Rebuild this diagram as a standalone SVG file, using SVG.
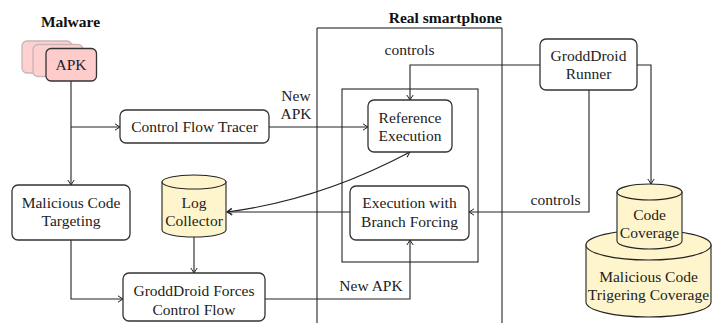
<svg xmlns="http://www.w3.org/2000/svg" width="712" height="323" viewBox="0 0 712 323">
<style>
.t{font-size:15.5px;fill:#222;text-anchor:middle}
.b{font-weight:bold;fill:#111}
.box{fill:#fff;stroke:#333;stroke-width:1.3}
.pk{fill:#ffcccc;stroke:#333;stroke-width:1.3}
.sh{fill:#ffd0d0;stroke:#c8b6b6;stroke-width:1.3}
.cy{fill:#fff5cc;stroke:#222;stroke-width:1.1}
.frame{fill:none;stroke:#111;stroke-width:1}
.c{fill:none;stroke:#222;stroke-width:1.1}
.a{marker-end:url(#ar)}
</style>
<defs>
<marker id="ar" viewBox="-6 -4 7 8" refX="0" refY="0" markerWidth="7" markerHeight="8" markerUnits="userSpaceOnUse" orient="auto-start-reverse">
<path d="M-5,-3.2 Q-1.5,-0.8 0,0 Q-1.5,0.8 -5,3.2" fill="none" stroke="#222" stroke-width="1"/>
</marker>
</defs>
<g font-family="Liberation Serif, DejaVu Serif, serif">
<g id="labels">
<text class="t b" x="70.5" y="27">Malware</text>
<text class="t b" x="502" y="23" style="text-anchor:end">Real smartphone</text>
</g>
<g id="phone">
<path class="frame" d="M317,323 V28 H502 V323"/>
<rect class="frame" x="342" y="89" width="136" height="173"/>
</g>
<g id="connectors">
<path class="c a" d="M71,81 V185"/>
<path class="c a" d="M71,127 H120"/>
<path class="c a" d="M269,127 H368"/>
<path class="c a" d="M540,65 H410 V100"/>
<path class="c a" d="M637,65 H651 V184"/>
<path class="c a" d="M589,90 V212 H469"/>
<path class="c a" d="M350,212 H227"/>
<path class="c a" style="marker-start:url(#ar)" d="M227,212 Q320,200 410,152"/>
<path class="c a" d="M194,237 V273"/>
<path class="c a" d="M71,240 V299 H123"/>
<path class="c a" d="M265,299 H410 V240"/>
<text class="t" x="296" y="101">New</text>
<text class="t" x="296" y="119">APK</text>
<text class="t" x="409.5" y="55">controls</text>
<text class="t" x="555.5" y="205">controls</text>
<text class="t" x="371" y="291">New APK</text>
</g>
<g id="apk">
<rect class="sh" x="22" y="41" width="50" height="32" rx="5"/>
<rect class="sh" x="33" y="44.5" width="50" height="32" rx="5"/>
<rect class="pk" x="46" y="48.5" width="50.5" height="32.5" rx="5"/>
<text class="t" x="71" y="70">APK</text>
</g>
<g id="tracer">
<rect class="box" x="120" y="110" width="149" height="33" rx="6"/>
<text class="t" x="194.5" y="132">Control Flow Tracer</text>
</g>
<g id="targeting">
<rect class="box" x="12" y="185" width="118" height="55" rx="6"/>
<text class="t" x="71" y="208">Malicious Code</text>
<text class="t" x="71" y="226">Targeting</text>
</g>
<g id="logcollector">
<path class="cy" d="M162,182 V230 A32,7 0 0 0 226,230 V182 Z"/>
<ellipse class="cy" cx="194" cy="182" rx="32" ry="7"/>
<text class="t" x="194" y="208">Log</text>
<text class="t" x="194" y="226">Collector</text>
</g>
<g id="forces">
<rect class="box" x="123" y="273" width="142" height="48" rx="6"/>
<text class="t" x="194" y="296">GroddDroid Forces</text>
<text class="t" x="194" y="315">Control Flow</text>
</g>
<g id="reference">
<rect class="box" x="368" y="100" width="84" height="52" rx="6"/>
<text class="t" x="410" y="123">Reference</text>
<text class="t" x="410" y="141">Execution</text>
</g>
<g id="branch">
<rect class="box" x="350" y="186" width="119" height="54" rx="6"/>
<text class="t" x="409.5" y="208">Execution with</text>
<text class="t" x="409.5" y="227">Branch Forcing</text>
</g>
<g id="runner">
<rect class="box" x="540" y="39" width="97" height="51" rx="6"/>
<text class="t" x="588.5" y="61">GroddDroid</text>
<text class="t" x="588.5" y="79">Runner</text>
</g>
<g id="malcov">
<path class="cy" d="M586,245 V302 A62.5,15 0 0 0 711,302 V245 Z"/>
<ellipse class="cy" cx="648.5" cy="245" rx="62.5" ry="15"/>
<text class="t" x="648.5" y="282">Malicious Code</text>
<text class="t" x="648.5" y="300">Trigering Coverage</text>
</g>
<g id="codecov">
<path class="cy" d="M617,192 V241 A32.5,8 0 0 0 682,241 V192 Z"/>
<ellipse class="cy" cx="649.5" cy="192" rx="32.5" ry="8"/>
<text class="t" x="649.5" y="220">Code</text>
<text class="t" x="649.5" y="238">Coverage</text>
</g>
</g>
</svg>
